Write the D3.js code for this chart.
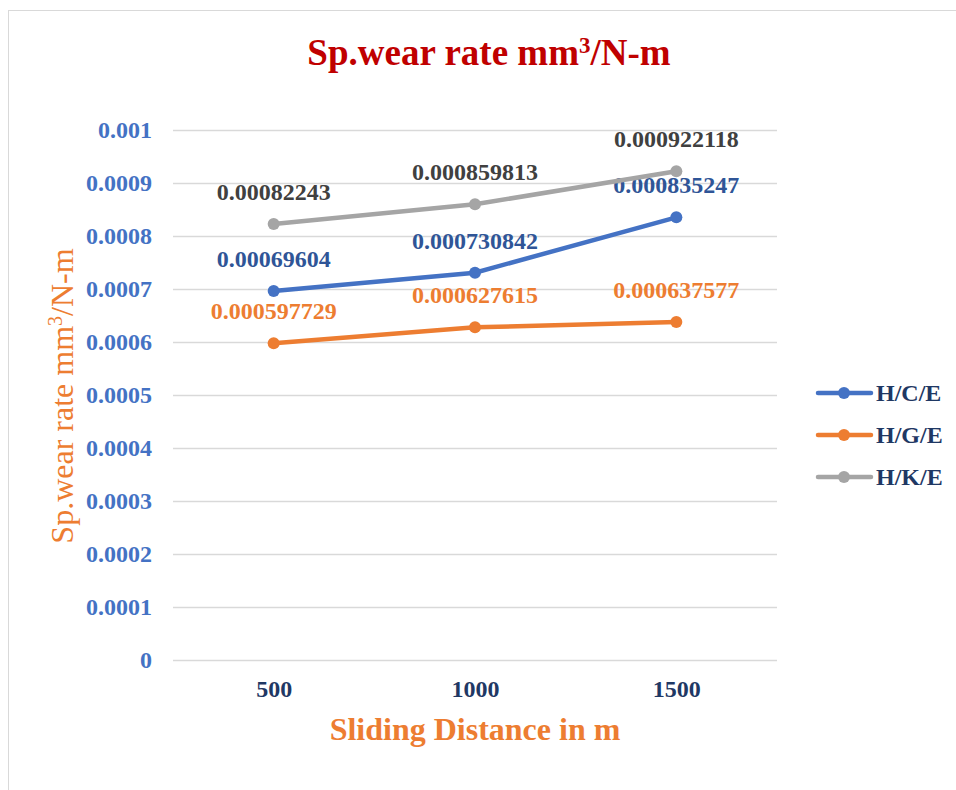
<!DOCTYPE html>
<html>
<head>
<meta charset="utf-8">
<script src="https://cdn.jsdelivr.net/npm/d3@7"></script>
<style>
  body { margin: 0; background: #fff; }
  text { font-family: "Liberation Serif", "Times New Roman", serif; }
</style>
</head>
<body>
<script>
var distances = [500, 1000, 1500];
var seriesNames = ["H/C/E", "H/G/E", "H/K/E"];
var hceValues = [0.00069604, 0.000730842, 0.000835247];
var hgeValues = [0.000597729, 0.000627615, 0.000637577];
var hkeValues = [0.00082243, 0.000859813, 0.000922118];
var yTicks = [0, 0.0001, 0.0002, 0.0003, 0.0004, 0.0005, 0.0006, 0.0007, 0.0008, 0.0009, 0.001];

var lineColors = ["#4472C4", "#ED7D31", "#A5A5A5"];
var labelColors = ["#2F5597", "#ED7D31", "#404040"];

var series = [
  {name: seriesNames[0], values: hceValues},
  {name: seriesNames[1], values: hgeValues},
  {name: seriesNames[2], values: hkeValues}
];

var width = 956, height = 790;
var plot = {left: 173, right: 777, top: 130, bottom: 660};

var svg = d3.select("body").append("svg")
    .attr("width", width)
    .attr("height", height);

// chart frame
svg.append("rect")
    .attr("x", 8.5).attr("y", 10.5)
    .attr("width", 960).attr("height", 800)
    .style("fill", "#fff")
    .style("stroke", "#d9d9d9");

var x = d3.scalePoint()
    .domain(distances)
    .range([plot.left, plot.right])
    .padding(0.5);

var y = d3.scaleLinear()
    .domain([0, 0.001])
    .range([plot.bottom, plot.top]);

// gridlines
svg.append("g")
    .attr("transform", "translate(" + plot.left + ",0)")
    .call(d3.axisLeft(y).tickValues(yTicks).tickSize(-(plot.right - plot.left)).tickFormat(""))
    .call(function(g) { g.select(".domain").remove(); })
    .selectAll("line")
    .style("stroke", "#d9d9d9")
    .style("stroke-width", 1.5);

// y tick labels
svg.append("g")
    .attr("transform", "translate(152,0)")
    .call(d3.axisLeft(y).tickValues(yTicks).tickSize(0).tickPadding(0)
      .tickFormat(function(d) { return d === 0 ? "0" : String(+d.toFixed(4)); }))
    .call(function(g) { g.select(".domain").remove(); })
    .selectAll("text")
    .style("font-family", "Liberation Serif")
    .style("font-size", "24px")
    .style("font-weight", "bold")
    .style("fill", "#4472C4");

// x tick labels
svg.append("g")
    .attr("transform", "translate(0," + (plot.bottom + 20) + ")")
    .call(d3.axisBottom(x).tickSize(0).tickPadding(0))
    .call(function(g) { g.select(".domain").remove(); })
    .selectAll("text")
    .style("font-family", "Liberation Serif")
    .style("font-size", "24px")
    .style("font-weight", "bold")
    .style("fill", "#1F3864");

// title
var title = svg.append("text")
    .attr("x", 489).attr("y", 65)
    .attr("text-anchor", "middle")
    .style("font-size", "37px")
    .style("font-weight", "bold")
    .style("fill", "#C00000");
title.append("tspan").text("Sp.wear rate mm");
title.append("tspan").attr("dy", -12).style("font-size", "23px").text("3");
title.append("tspan").attr("dy", 12).text("/N-m");

// x axis title
svg.append("text")
    .attr("x", 475).attr("y", 740)
    .attr("text-anchor", "middle")
    .style("font-size", "32px")
    .style("font-weight", "bold")
    .style("fill", "#ED7D31")
    .text("Sliding Distance in m");

// y axis title
var ytitle = svg.append("text")
    .attr("transform", "translate(73,396) rotate(-90)")
    .attr("text-anchor", "middle")
    .style("font-size", "32px")
    .style("fill", "#ED7D31");
ytitle.append("tspan").text("Sp.wear rate mm");
ytitle.append("tspan").attr("dy", -11).style("font-size", "20px").text("3");
ytitle.append("tspan").attr("dy", 11).text("/N-m");

var line = d3.line()
    .x(function(d, i) { return x(distances[i]); })
    .y(function(d) { return y(d); });

var groups = svg.selectAll(".series")
    .data(series)
  .enter().append("g")
    .attr("class", "series");

groups.append("path")
    .attr("d", function(d) { return line(d.values); })
    .style("fill", "none")
    .style("stroke", function(d, i) { return lineColors[i]; })
    .style("stroke-width", 4.5)
    .style("stroke-linecap", "round");

groups.each(function(s, si) {
  var g = d3.select(this);
  g.selectAll("circle")
      .data(s.values)
    .enter().append("circle")
      .attr("cx", function(d, i) { return x(distances[i]); })
      .attr("cy", function(d) { return y(d); })
      .attr("r", 6)
      .style("fill", lineColors[si]);
  g.selectAll(".lbl")
      .data(s.values)
    .enter().append("text")
      .attr("class", "lbl")
      .attr("x", function(d, i) { return x(distances[i]); })
      .attr("y", function(d) { return y(d) - 24; })
      .attr("text-anchor", "middle")
      .style("font-size", "24px")
      .style("font-weight", "bold")
      .style("fill", labelColors[si])
      .text(function(d) { return String(d); });
});

// legend
var legend = svg.selectAll(".legend")
    .data(series)
  .enter().append("g")
    .attr("class", "legend")
    .attr("transform", function(d, i) { return "translate(818," + (393 + i * 42) + ")"; });

legend.append("line")
    .attr("x1", 0).attr("x2", 53)
    .style("stroke", function(d, i) { return lineColors[i]; })
    .style("stroke-width", 4.5)
    .style("stroke-linecap", "round");

legend.append("circle")
    .attr("cx", 26).attr("r", 6)
    .style("fill", function(d, i) { return lineColors[i]; });

legend.append("text")
    .attr("x", 58).attr("y", 8)
    .style("font-size", "24px")
    .style("font-weight", "bold")
    .style("fill", "#1F3864")
    .text(function(d) { return d.name; });
</script>
</body>
</html>
